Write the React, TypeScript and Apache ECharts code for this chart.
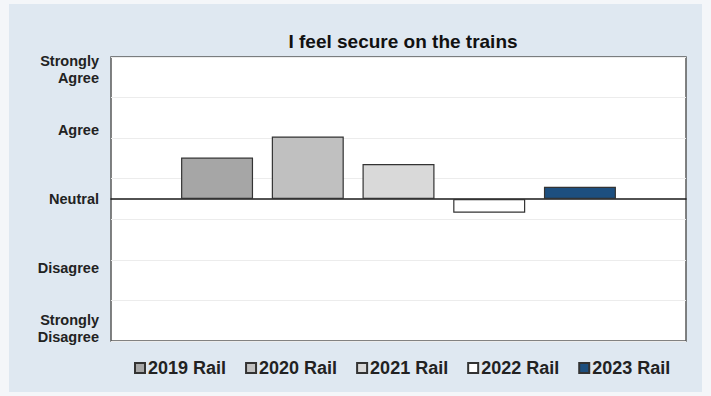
import React, { useEffect, useRef } from "react";
import * as echarts from "echarts";

const title = "I feel secure on the trains";
const seriesNames = ["2019 Rail", "2020 Rail", "2021 Rail", "2022 Rail", "2023 Rail"];
const seriesValues = [1.02, 1.54, 0.86, -0.34, 0.3];
const seriesColors = ["#a6a6a6", "#c0c0c0", "#d9d9d9", "#ffffff", "#1d4f7f"];
const yLabelValues = [-3.2, -1.7, 0, 1.7, 3.2];
const yLabelTexts = ["Strongly\nDisagree", "Disagree", "Neutral", "Agree", "Strongly\nAgree"];
const categories = [""];

export default function App() {
  const ref = useRef<HTMLDivElement>(null);
  useEffect(() => {
    if (!ref.current) return;
    const chart = echarts.init(ref.current, undefined, { renderer: "svg" });
    const font = "Arial, 'Liberation Sans', sans-serif";
    chart.setOption({
      animation: false,
      backgroundColor: "#f4f6f9",
      graphic: [
        {
          type: "rect",
          z: -10,
          shape: { x: 9, y: 4, width: 693, height: 388 },
          style: { fill: "#dfe8f1" },
          silent: true,
        },
      ],
      title: {
        text: title,
        left: 398,
        textAlign: "center",
        top: 27,
        textStyle: { fontFamily: font, fontWeight: "bold", fontSize: 19, color: "#111" },
      },
      legend: {
        data: seriesNames,
        left: 129,
        top: 354,
        itemWidth: 10,
        itemHeight: 10,
        itemGap: 19,
        icon: "rect",
        textStyle: { fontFamily: font, fontWeight: "bold", fontSize: 18, color: "#222", padding: [0, 0, 0, -2] },
      },
      grid: {
        left: 111,
        right: 25,
        top: 57,
        bottom: 55,
        show: true,
        backgroundColor: "#ffffff",
        borderColor: "#5a5a5a",
        borderWidth: 1.5,
      },
      xAxis: {
        type: "category",
        data: categories,
        axisLine: { show: true, onZero: true, onZeroAxisIndex: 0, lineStyle: { color: "#1a1a1a", width: 1.5 } },
        axisTick: { show: false },
        axisLabel: { show: false },
        splitLine: { show: false },
      },
      yAxis: [
        {
          type: "value",
          min: -3.5,
          max: 3.5,
          axisLine: { show: false },
          axisTick: { show: false },
          splitLine: { show: false },
          axisLabel: {
            customValues: yLabelValues,
            margin: 12,
            fontFamily: font,
            fontWeight: "bold",
            fontSize: 14.5,
            lineHeight: 17,
            color: "#222",
            align: "right",
            formatter: (v: number) => {
              let best = 0;
              yLabelValues.forEach((lv, i) => {
                if (Math.abs(lv - v) < Math.abs(yLabelValues[best] - v)) best = i;
              });
              return yLabelTexts[best];
            },
          },
        },
        {
          type: "value",
          position: "left",
          min: 0,
          max: 7,
          interval: 1,
          axisLine: { show: false },
          axisTick: { show: false },
          axisLabel: { show: false },
          splitLine: { show: true, lineStyle: { color: "#ececec", width: 1 } },
        },
      ],
      series: seriesNames.map((name, i) => ({
        name,
        type: "bar",
        yAxisIndex: 0,
        barWidth: 72,
        barGap: "26%",
        data: [seriesValues[i]],
        itemStyle: { color: seriesColors[i], borderColor: "#333", borderWidth: 1.2 },
      })),
    });
    return () => chart.dispose();
  }, []);
  return (
    <div
      ref={ref}
      style={{ position: "fixed", left: 0, top: 0, width: 711, height: 396 }}
    />
  );
}
